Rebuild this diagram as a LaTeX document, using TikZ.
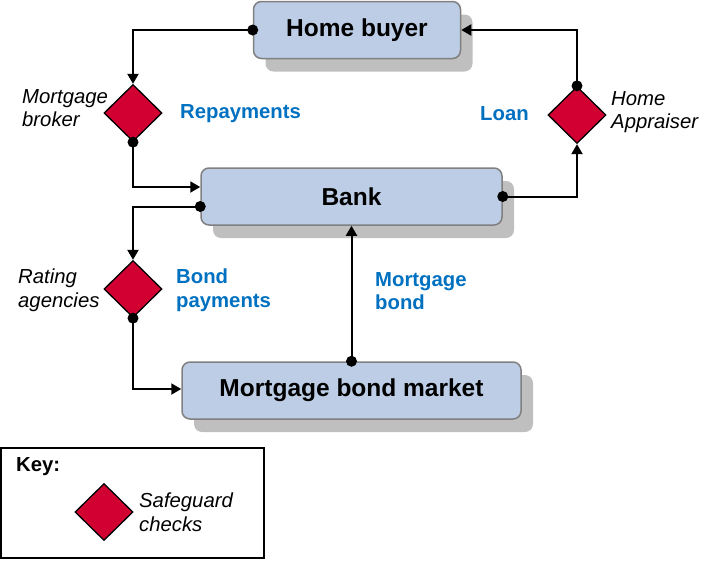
\documentclass[tikz,border=0pt]{standalone}
\usepackage{fontspec}
\setmainfont{Liberation Sans}
\usetikzlibrary{shapes.geometric,shadows,arrows.meta}
\definecolor{boxblue}{RGB}{188,205,229}
\definecolor{boxgrey}{RGB}{128,128,128}
\definecolor{shadowgrey}{RGB}{191,191,191}
\definecolor{checkred}{RGB}{210,0,50}
\definecolor{flowblue}{RGB}{0,112,192}

\begin{document}
\begin{tikzpicture}[x=1pt, y=-1pt,
		party/.style={rectangle, rounded corners=8pt, draw=boxgrey, line width=1.5pt, fill=boxblue, inner sep=0,
			general shadow={fill=shadowgrey, shadow xshift=12pt, shadow yshift=-13pt},
			font=\fontsize{24.5}{28}\selectfont\bfseries},
		check/.style={diamond, draw=black, line width=1.3pt, fill=checkred, inner sep=0, minimum width=58pt, minimum height=57pt},
		who/.style={anchor=west, inner sep=0, align=left, font=\fontsize{20.3}{23.5}\selectfont\itshape},
		flow/.style={anchor=west, inner sep=0, align=left, text=flowblue, font=\fontsize{20.3}{23.5}\selectfont\bfseries},
		conn/.style={line width=2pt, -{Triangle[length=10pt, width=11pt]}}]
		\useasboundingbox (0,0) rectangle (727,560);
		\node[party, minimum width=207pt, minimum height=57pt] (buyer) at (357, 30) {Home buyer};
		\node[party, minimum width=301pt, minimum height=57pt] (bank) at (351.5, 196.5) {Bank};
		\node[party, minimum width=339pt, minimum height=57pt] (market) at (351.5, 390.5) {Mortgage bond market};
		\node[check] (broker) at (133, 113) {};
		\node[check] (rating) at (133, 289) {};
		\node[check] (appraiser) at (577, 115) {};
		\node[who] (brokerlbl) at (22, 108) {Mortgage\\broker};
		\node[who] (ratinglbl) at (18, 290) {Rating\\agencies};
		\node[who] (appraiserlbl) at (611, 112) {Home\\Appraiser};
		\node[flow] (repay) at (180, 114) {Repayments};
		\node[flow] (loan) at (480, 114) {Loan};
		\node[flow] (bondpay) at (176, 290) {Bond\\payments};
		\node[flow] (bond) at (375, 291) {Mortgage\\bond};
		\draw[conn] (buyer.west) -| (broker.north);
		\draw[conn] (broker.south) |- ([yshift=9.5pt]bank.west);
		\draw[conn] ([yshift=-10pt]bank.west) -| (rating.north);
		\draw[conn] (rating.south) |- ([yshift=1.5pt]market.west);
		\draw[conn] (market.north) -- (bank.south);
		\draw[conn] (bank.east) -| (appraiser.south);
		\draw[conn] (appraiser.north) |- (buyer.east);
		\fill (buyer.west) circle (5.5pt);
		\fill (broker.south) circle (5.5pt);
		\fill ([yshift=-10pt]bank.west) circle (5.5pt);
		\fill (rating.south) circle (5.5pt);
		\fill (market.north) circle (5.5pt);
		\fill (bank.east) circle (5.5pt);
		\fill (appraiser.north) circle (5.5pt);
		\draw[line width=2pt] (1, 448) rectangle (264, 558);
		\node[anchor=west, inner sep=0, font=\fontsize{20.3}{23.5}\selectfont\bfseries] (key) at (16, 467) {Key:};
		\node[check] (keycheck) at (104, 512) {};
		\node[who] (keylbl) at (139, 512) {Safeguard\\checks};
	\end{tikzpicture}
\end{document}
